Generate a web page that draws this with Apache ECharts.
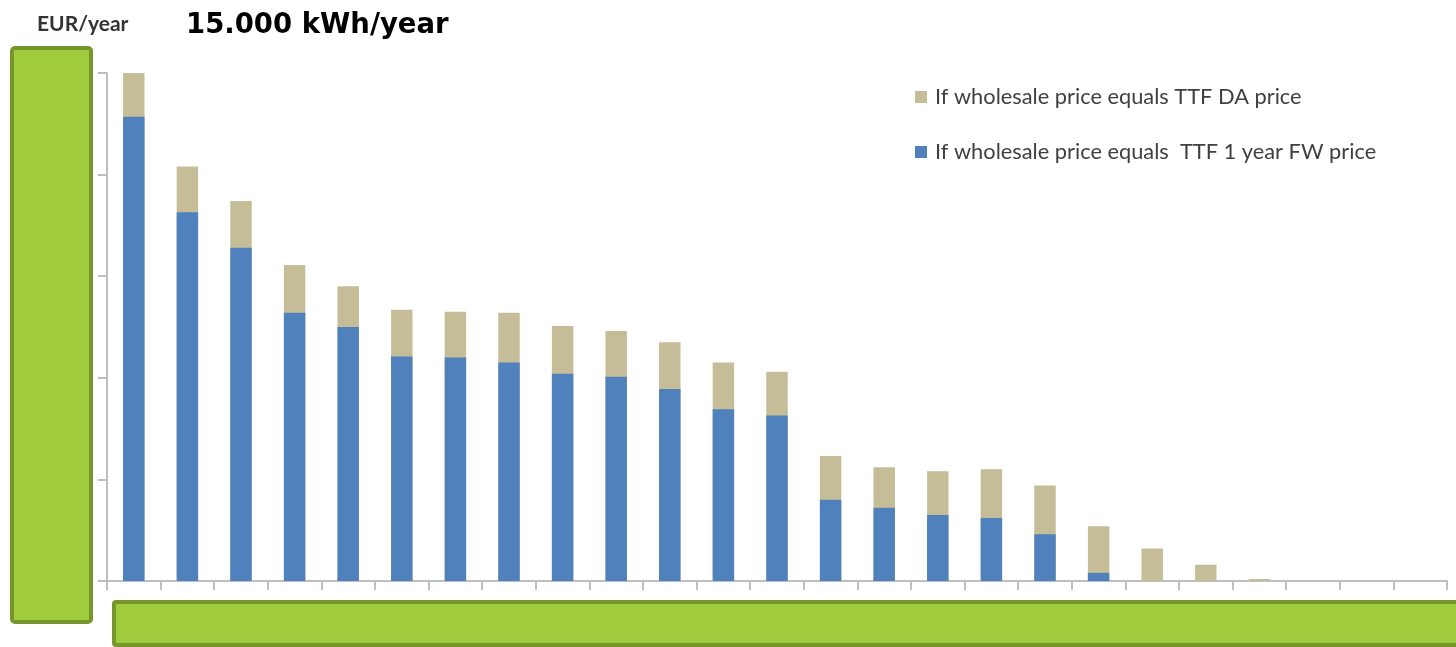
<!DOCTYPE html>
<html>
<head>
<meta charset="utf-8">
<script src="https://cdn.jsdelivr.net/npm/echarts@6/dist/echarts.min.js"></script>
<style>
html,body{margin:0;padding:0;background:#fff;}
#chart{width:1456px;height:647px;}
</style>
</head>
<body>
<div id="chart"></div>
<script>
var categories = ['1','2','3','4','5','6','7','8','9','10','11','12','13','14','15','16','17','18','19','20','21','22','23','24','25'];
var daPrice = [500, 408, 374, 311, 290, 267, 265, 264, 251, 246, 235, 215, 206, 123, 112, 108, 110, 94, 54, 32, 16, 2, 0, 0, 0];
var fwPrice = [457, 363, 328, 264, 250, 221, 220, 215, 204, 201, 189, 169, 163, 80, 72, 65, 62, 46, 8, 0, 0, 0, 0, 0, 0];
var seriesNames = ['If wholesale price equals TTF DA price', 'If wholesale price equals  TTF 1 year FW price'];

var chart = echarts.init(document.getElementById('chart'));
var axisGray = '#bfbfbf';
chart.setOption({
  animation: false,
  backgroundColor: '#ffffff',
  grid: {left: 107, right: 9, top: 73, bottom: 66, containLabel: false},
  legend: {
    orient: 'vertical',
    left: 910,
    top: 81,
    itemWidth: 12,
    itemHeight: 12,
    itemGap: 33,
    icon: 'rect',
    textStyle: {fontFamily: 'Lato', fontSize: 21.8, color: '#404040', padding: [0, 0, 0, 3]},
    data: seriesNames
  },
  xAxis: {
    type: 'category',
    data: categories,
    axisLine: {lineStyle: {color: axisGray, width: 2}},
    axisTick: {show: true, length: 9, lineStyle: {color: axisGray, width: 2}},
    axisLabel: {show: false}
  },
  yAxis: {
    type: 'value',
    min: 0, max: 500, interval: 100,
    axisLine: {show: true, lineStyle: {color: axisGray, width: 2}},
    axisTick: {show: true, length: 9, lineStyle: {color: axisGray, width: 2}},
    axisLabel: {show: false},
    splitLine: {show: false}
  },
  series: [
    {name: seriesNames[0], type: 'bar', data: daPrice, barWidth: '40%', barGap: '-100%',
     itemStyle: {color: '#C4BD97'}},
    {name: seriesNames[1], type: 'bar', data: fwPrice, barWidth: '40%', barGap: '-100%',
     itemStyle: {color: '#4F81BD'}}
  ],
  graphic: [
    {type: 'text', left: 37, top: 14, style: {text: 'EUR/year', fontFamily: 'Lato', fontSize: 21, fontWeight: 'bold', fill: '#333333'}},
    {type: 'text', left: 186, top: 12, style: {text: '15.000 kWh/year', fontFamily: 'DejaVu Sans', fontSize: 27.5, fontWeight: 'bold', fill: '#000000'}},
    {type: 'rect', shape: {x: 12, y: 48, width: 79, height: 574, r: 3}, style: {fill: '#9FCB3C', stroke: '#76962C', lineWidth: 4}, z: 100},
    {type: 'rect', shape: {x: 114, y: 602, width: 1350, height: 43, r: 2}, style: {fill: '#9FCB3C', stroke: '#76962C', lineWidth: 4}, z: 100}
  ]
});
</script>
</body>
</html>
